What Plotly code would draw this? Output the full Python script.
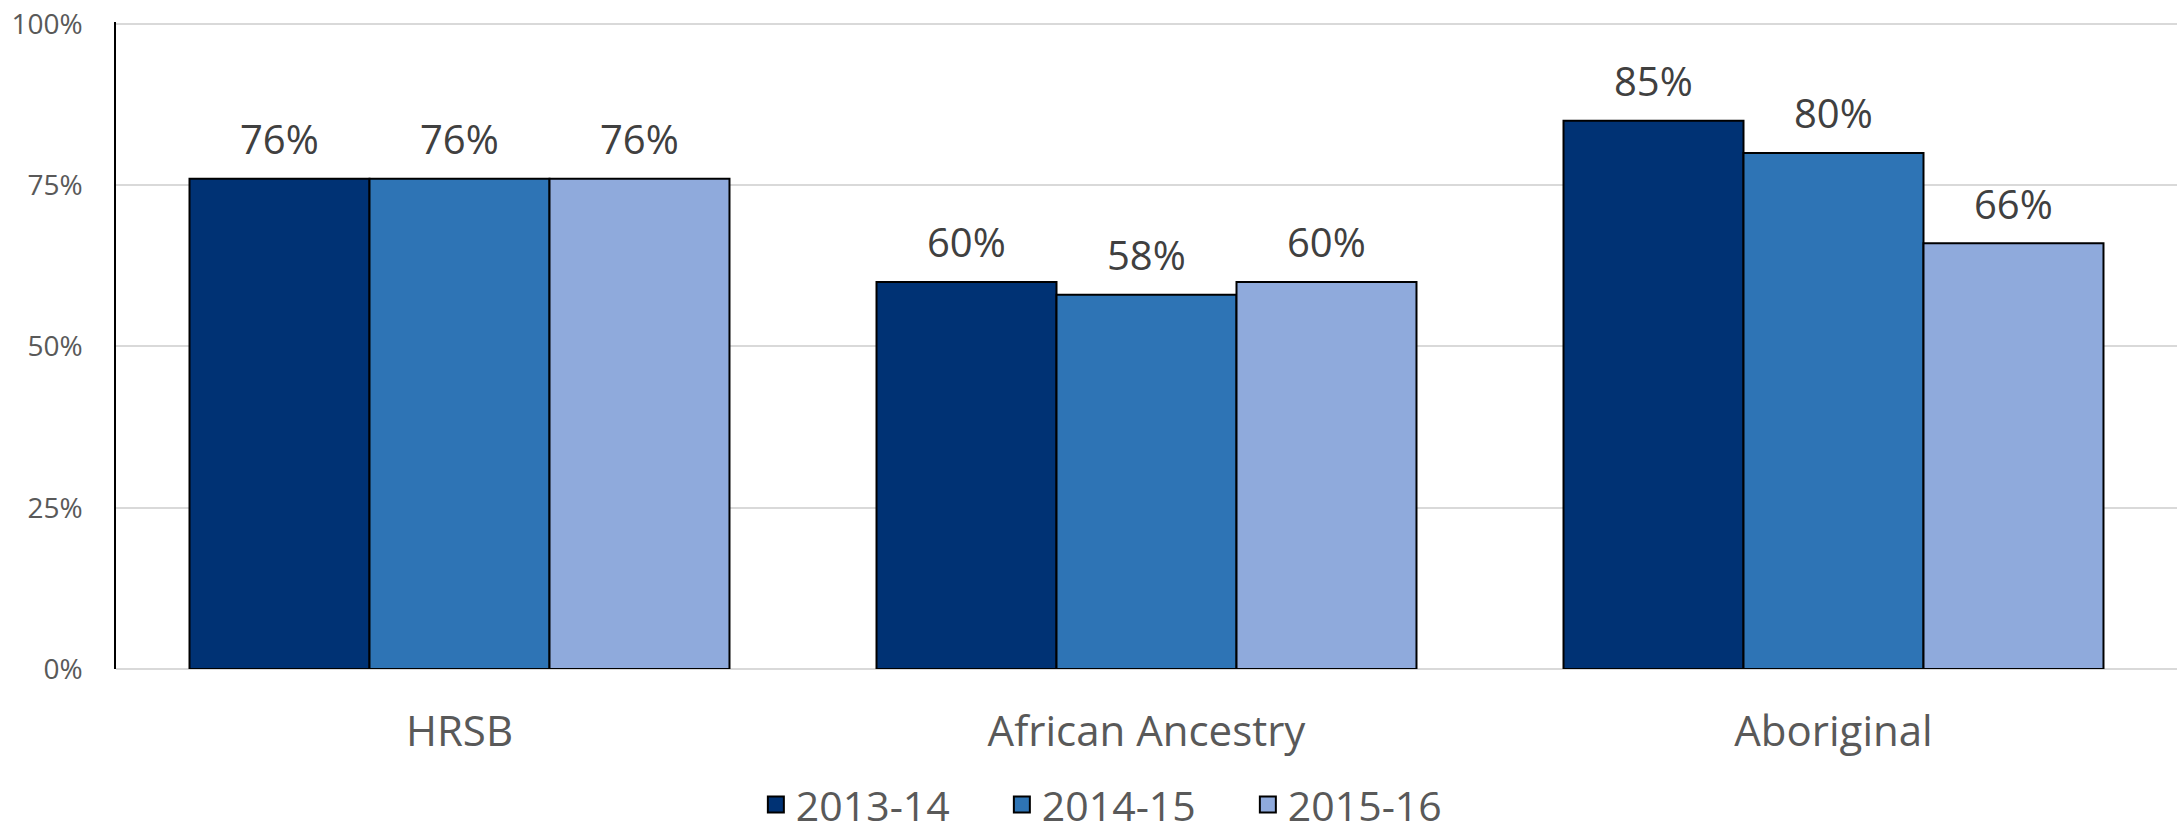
import plotly.graph_objects as go

categories = ["HRSB", "African Ancestry", "Aboriginal"]
series_names = ["2013-14", "2014-15", "2015-16"]
values_2013 = [76, 60, 85]
values_2014 = [76, 58, 80]
values_2015 = [76, 60, 66]
series_values = [values_2013, values_2014, values_2015]
colors = ["#003274", "#2E74B5", "#8FAADC"]
y_ticks = [0, 25, 50, 75, 100]
y_tick_labels = ["0%", "25%", "50%", "75%", "100%"]

FONT = "Open Sans"
bargap = 0.214

fig = go.Figure()
for name, vals, col in zip(series_names, series_values, colors):
    fig.add_trace(go.Bar(
        name=name, x=categories, y=vals, showlegend=False,
        marker=dict(color=col, line=dict(color="#000000", width=2)),
    ))

# legend entries (larger square swatches)
for name, col in zip(series_names, colors):
    fig.add_trace(go.Scatter(
        name=name, x=[None], y=[None], mode="markers",
        marker=dict(symbol="square", size=26, color=col,
                    line=dict(color="#000000", width=2)),
        showlegend=True, hoverinfo="skip",
    ))

# data labels via annotations placed on axis coordinates
n = len(series_names)
w = (1 - bargap) / n
for i, vals in enumerate(series_values):
    for j, v in enumerate(vals):
        fig.add_annotation(
            x=j + (i - (n - 1) / 2) * w, y=v, xref="x", yref="y",
            text=f"{v}%", showarrow=False, yanchor="middle", yshift=40,
            font=dict(family=FONT, size=40, color="#404040"),
        )

fig.update_layout(
    width=2178, height=832,
    margin=dict(l=116, r=1, t=22, b=163, autoexpand=False),
    paper_bgcolor="white", plot_bgcolor="white",
    barmode="group", bargap=bargap, bargroupgap=0,
    font=dict(family=FONT, color="#595959"),
    legend=dict(
        orientation="h", x=0.4895, xanchor="center", y=-0.21, yanchor="middle",
        font=dict(family=FONT, size=41, color="#595959"),
        entrywidth=201, itemsizing="trace",
    ),
    showlegend=True,
)
fig.update_xaxes(
    type="category", showgrid=False, showline=False, ticks="",
    tickfont=dict(family=FONT, size=42, color="#595959"),
    ticklabelstandoff=34, automargin=False,
)
fig.update_yaxes(
    range=[0, 100.3], tickvals=y_ticks, ticktext=y_tick_labels,
    showgrid=True, gridcolor="#D9D9D9", gridwidth=2,
    zeroline=True, zerolinecolor="#D9D9D9", zerolinewidth=2,
    showline=True, linecolor="#000000", linewidth=1.5,
    ticks="", ticklabelstandoff=26, automargin=False,
    ticklabeloverflow="allow",
    tickfont=dict(family=FONT, size=28, color="#595959"),
)

fig.write_html(
    "out.html",
    config={"displayModeBar": False},
    post_script="document.body.style.margin='0';document.body.style.overflow='hidden';",
)
